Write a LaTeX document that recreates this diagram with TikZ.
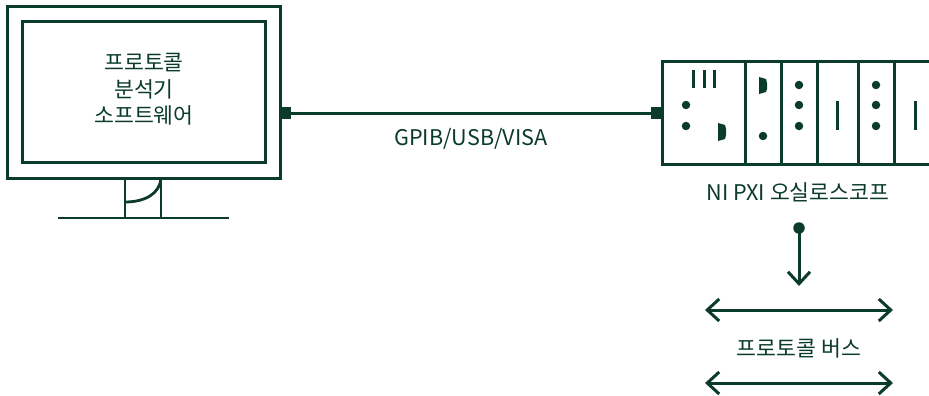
\documentclass[tikz,border=0pt]{standalone}
\usepackage{fontspec}
\setmainfont{Noto Sans CJK KR}
\usetikzlibrary{arrows.meta}
\definecolor{ink}{HTML}{0B3B2C}
\tikzset{
  x=1pt,y=-1pt,
  every path/.style={line join=miter},
  frame/.style={draw=ink,line width=3pt,minimum width=0,inner sep=0},
  link/.style={draw=ink,line width=3pt},
  thin frame/.style={draw=ink,line width=2.8pt},
  lbl/.style={text=ink,font=\fontsize{21.6}{26.6}\selectfont,inner sep=0,align=center},
  jack/.style={fill=ink,draw=none,minimum size=11.5pt,inner sep=0},
  pin/.style={fill=ink,draw=none,circle,minimum size=8.5pt,inner sep=0},
  bar/.style={draw=ink,line width=3pt},
  barb/.style={draw=ink,line width=3pt,{Straight Barb[length=12pt,width=22pt,line width=3pt]}-{Straight Barb[length=12pt,width=22pt,line width=3pt]}},
  downbarb/.style={draw=ink,line width=3pt,-{Straight Barb[length=12pt,width=22pt,line width=3pt]}},
  trap/.style={fill=ink,draw=none}
}
\begin{document}
\begin{tikzpicture}
\useasboundingbox (0,0) rectangle (929,396);
% monitor
\draw[frame] (7,7) rectangle (280,178);
\draw[frame] (22,22) rectangle (265,162);
\draw[thin frame] (125,178) -- (125,218);
\draw[thin frame] (161,178) -- (161,218);
\draw[thin frame] (58,218) -- (229,218);
\draw[thin frame] (161,178) .. controls (160,193) and (146,202) .. (125,202);
\node[lbl] (sw) at (144,89.5) {프로토콜\\분석기\\소프트웨어};
% jacks and link
\node[jack] (j1) at (285.5,113) {};
\node[jack] (j2) at (656.5,113) {};
\draw[link] (j1) -- (j2) node[lbl,midway,yshift=-25.5pt] (lk) {GPIB/USB/VISA};
% PXI
\draw[frame] (929.5,61.5) -- (662,61.5) -- (662,164.5) -- (929.5,164.5);
\foreach \x in {745,781,817,858,894} \draw[frame] (\x,61.5) -- (\x,164.5);
\foreach \x in {693,704,714} \draw[bar] (\x,70) -- (\x,88);
\foreach \x/\y in {686/105,686/126,763/136,799/85,799/105,799/126,876/85,876/105,876/126}
  \node[pin] at (\x,\y) {};
\draw[trap] (718,123) -- (725,125) -- (726,129) -- (726,135) -- (725,139) -- (718,141) -- cycle;
\draw[trap] (759,77) -- (766,79) -- (767,83) -- (767,89) -- (766,92) -- (759,94) -- cycle;
\draw[bar] (837,101) -- (837,130);
\draw[bar] (915,101) -- (915,130);
\node[lbl] (pxi) at (798,192) {NI PXI 오실로스코프};
% bus
\node[pin,minimum size=11.5pt] (d) at (799,228) {};
\coordinate (dtip) at (799,286);
\draw[downbarb] (d.center) -- (dtip);
\coordinate (a1) at (705,310); \coordinate (a2) at (893,310);
\coordinate (b1) at (705,383); \coordinate (b2) at (893,383);
\draw[barb] (a1) -- (a2);
\draw[barb] (b1) -- (b2);
\node[lbl] (bus) at (799,348) {프로토콜 버스};
\end{tikzpicture}
\end{document}
